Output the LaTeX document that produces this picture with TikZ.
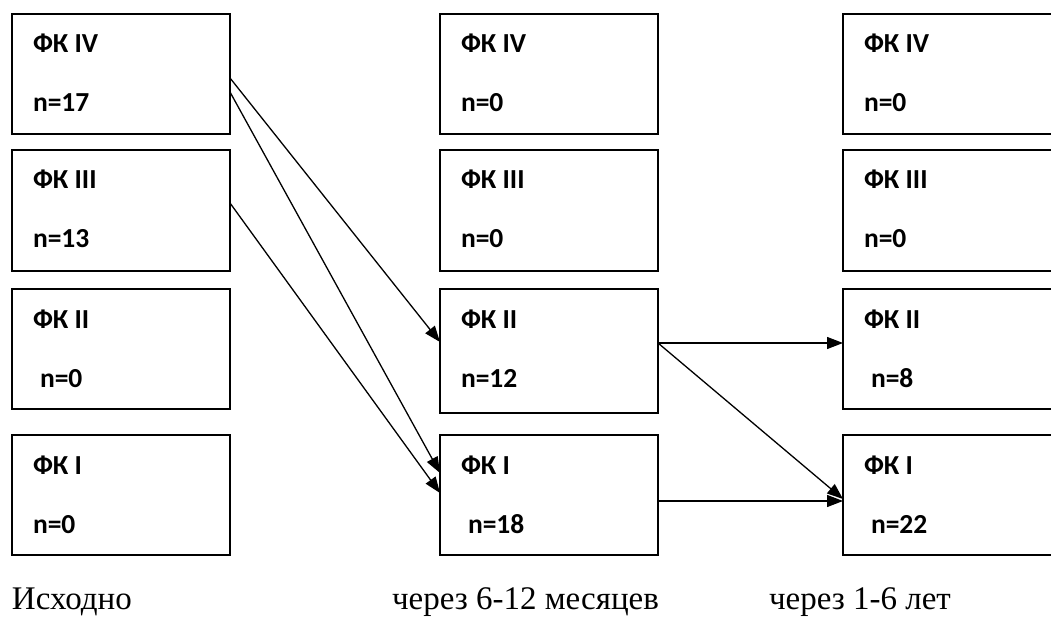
\documentclass[tikz,border=0pt]{standalone}
\usepackage{fontspec}
\setmainfont{Liberation Serif}
\newfontfamily\carlito{Carlito}
\usetikzlibrary{arrows.meta,calc}
\tikzset{
  box/.style={draw=black, line width=1.6pt, minimum width=218pt, inner sep=0pt, outer sep=0pt, fill=none},
  lbl/.style={inner sep=0pt, outer sep=0pt, font=\carlito\bfseries\fontsize{27.5}{30}\selectfont},
  captxt/.style={inner sep=0pt, outer sep=0pt, anchor=base west, font=\fontsize{33}{40}\selectfont},
  arr/.style={line width=1.3pt, -{Triangle[length=16pt,width=12pt]}}
}
\newcommand\fkbox[7]{%
  \node[box, minimum height=#4pt, anchor=north west] (#1) at (#2,#3) {};
  \node[lbl, anchor=base west] (#1t) at ([xshift=21pt,yshift=-39pt]#1.north west) {#5};
  \node[lbl, anchor=base west] (#1n) at ([xshift=#7pt,yshift=-98pt]#1.north west) {#6};
}
\begin{document}
\begin{tikzpicture}[x=1pt,y=-1pt]
\useasboundingbox (0,0) rectangle (1051,617);
\clip (0,0) rectangle (1051,617);
% left column
\fkbox{l4}{12}{14}{120}{ФК IV}{n=17}{21}
\fkbox{l3}{12}{150}{121}{ФК III}{n=13}{21}
\fkbox{l2}{12}{289}{120}{ФК II}{n=0}{28}
\fkbox{l1}{12}{435}{120}{ФК I}{n=0}{21}
% middle column
\fkbox{m4}{440}{14}{120}{ФК IV}{n=0}{21}
\fkbox{m3}{440}{150}{121}{ФК III}{n=0}{21}
\fkbox{m2}{440}{289}{124}{ФК II}{n=12}{21}
\fkbox{m1}{440}{435}{120}{ФК I}{n=18}{28}
% right column
\fkbox{r4}{843}{14}{120}{ФК IV}{n=0}{21}
\fkbox{r3}{843}{150}{121}{ФК III}{n=0}{21}
\fkbox{r2}{843}{289}{120}{ФК II}{n=8}{28}
\fkbox{r1}{843}{435}{120}{ФК I}{n=22}{28}
% arrows
\draw[arr] ([yshift=-64pt]l4.north east) -- ([yshift=-53pt]m2.north west);
\draw[arr] ([yshift=-78pt]l4.north east) -- ([yshift=-38pt]m1.north west);
\draw[arr] ([yshift=-53pt]l3.north east) -- ([yshift=-58pt]m1.north west);
\draw[arr] ([yshift=-54pt]m2.north east) -- ([yshift=-54pt]r2.north west);
\draw[arr] ([yshift=-54pt]m2.north east) -- ([yshift=-64pt]r1.north west);
\draw[arr] ([yshift=-66pt]m1.north east) -- ([yshift=-66pt]r1.north west);
% captions
\node[captxt] (c1) at (12,609) {Исходно};
\node[captxt] (c2) at (392,609) {через 6-12 месяцев};
\node[captxt] (c3) at (769,609) {через 1-6 лет};
\end{tikzpicture}
\end{document}
